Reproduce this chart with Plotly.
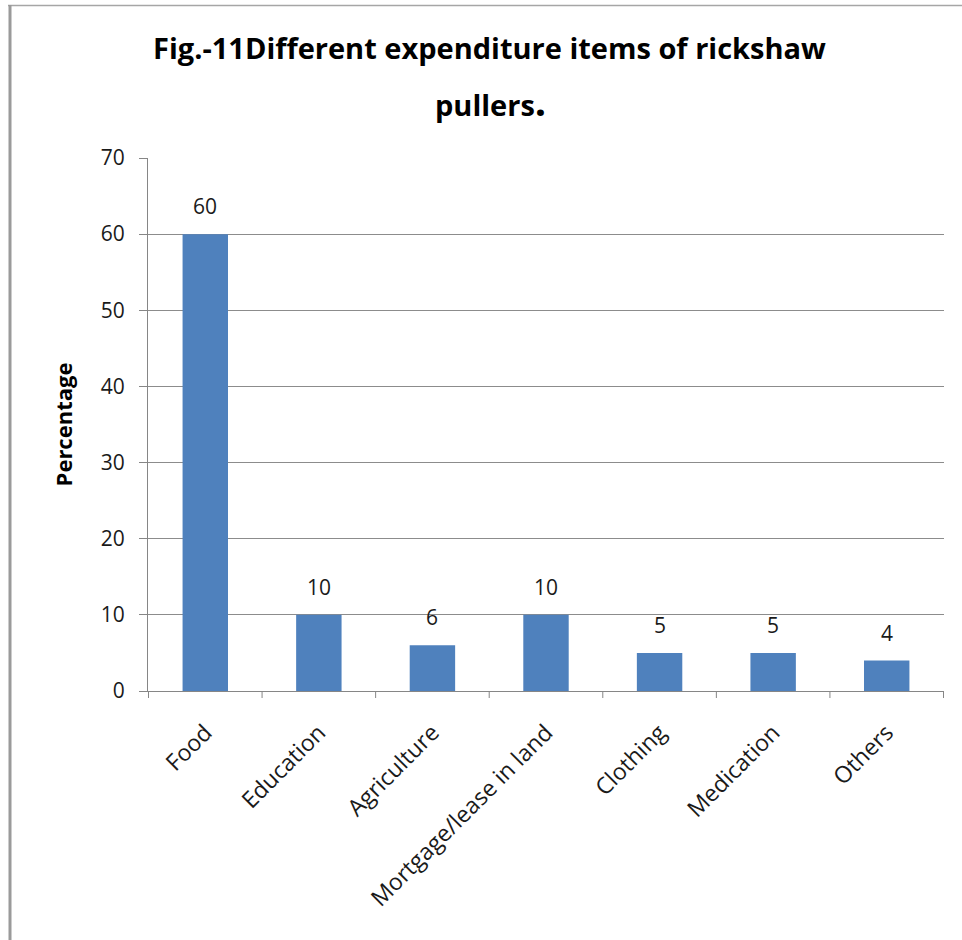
import plotly.graph_objects as go

categories = ["Food", "Education", "Agriculture", "Mortgage/lease in land",
              "Clothing", "Medication", "Others"]
percentages = [60, 10, 6, 10, 5, 5, 4]
y_ticks = [0, 10, 20, 30, 40, 50, 60, 70]

W, H = 962, 940
L, R, T, B = 148, 18, 158, 249
pw, ph = W - L - R, H - T - B

def px_x(x):
    return (x - L) / pw

def px_y(y):
    return (H - B - y) / ph

FONT = "Open Sans"
TXT = "#1a1a1a"

fig = go.Figure(go.Bar(
    x=categories,
    y=percentages,
    width=0.4,
    marker=dict(color="#4f81bd", line=dict(width=0)),
    hoverinfo="x+y",
))

# value labels above each bar
label_annotations = [
    dict(x=c, y=v, xref="x", yref="y", text=str(v), showarrow=False,
         xanchor="center", yanchor="bottom", yshift=12,
         font=dict(family=FONT, size=21, color=TXT))
    for c, v in zip(categories, percentages)
]

fig.update_layout(
    width=W, height=H,
    margin=dict(l=L, r=R, t=T, b=B),
    paper_bgcolor="white",
    plot_bgcolor="white",
    showlegend=False,
    font=dict(family=FONT, color=TXT),
    xaxis=dict(
        type="category",
        tickangle=-45,
        tickfont=dict(family=FONT, size=23, color=TXT),
        ticklabelstandoff=18,
        showline=True, linecolor="#868686", linewidth=1,
        ticks="", showgrid=False,
    ),
    yaxis=dict(
        range=[0, 70],
        tickvals=y_ticks,
        tickfont=dict(family=FONT, size=21, color=TXT),
        ticklabelstandoff=10,
        showgrid=True, gridcolor="#8c8c8c", gridwidth=1,
        showline=True, linecolor="#868686", linewidth=1,
        ticks="outside", ticklen=8, tickcolor="#868686",
        zeroline=False,
        title=dict(text="<b>Percentage</b>",
                   font=dict(family=FONT, size=22, color="#000000"),
                   standoff=22),
    ),
    annotations=label_annotations + [
        dict(text="<b>Fig.-11Different expenditure items of rickshaw</b>",
             xref="paper", yref="paper", x=px_x(489), y=px_y(48),
             xanchor="center", yanchor="middle", showarrow=False,
             font=dict(family=FONT, size=29, color="#000000")),
        dict(text="<b>pullers<span style='font-size:40px'>.</span></b>",
             xref="paper", yref="paper", x=px_x(490), y=px_y(100),
             xanchor="center", yanchor="middle", showarrow=False,
             font=dict(family=FONT, size=29, color="#000000")),
    ],
    shapes=[
        # outer frame: top and left edges
        dict(type="line", xref="paper", yref="paper",
             x0=px_x(8), x1=px_x(962), y0=px_y(5.5), y1=px_y(5.5),
             line=dict(color="#a6a6a6", width=1.5)),
        dict(type="line", xref="paper", yref="paper",
             x0=px_x(10), x1=px_x(10), y0=px_y(5), y1=px_y(940),
             line=dict(color="#9a9a9a", width=3)),
    ],
)

# category boundary tick marks below the x axis
n = len(categories)
for i in range(n + 1):
    fig.add_shape(type="line", xref="x", yref="paper",
                  x0=i - 0.5, x1=i - 0.5, y0=0, y1=-7 / ph,
                  line=dict(color="#868686", width=1))

fig.write_html("out.html")
